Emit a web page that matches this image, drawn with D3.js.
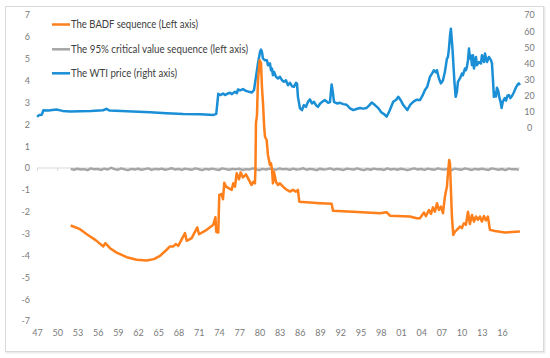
<!DOCTYPE html>
<html><head><meta charset="utf-8">
<script src="https://cdn.jsdelivr.net/npm/d3@7"></script>
<style>body{margin:0;background:#fff} svg{display:block}</style>
</head><body><svg id="c" width="550" height="358"></svg>
<script>
const xTickLabels = ["47","50","53","56","59","62","65","68","71","74","77","80","83","86","89","92","95","98","01","04","07","10","13","16"];
const xTickYears = [1947,1950,1953,1956,1959,1962,1965,1968,1971,1974,1977,1980,1983,1986,1989,1992,1995,1998,2001,2004,2007,2010,2013,2016];
const leftTicks = [7,6,5,4,3,2,1,0,-1,-2,-3,-4,-5,-6,-7];
const rightTicks = [0,10,20,30,40,50,60,70];
const legendLabels = ["The BADF sequence (Left axis)","The 95% critical value sequence (left axis)","The WTI price (right axis)"];

// BADF sequence [year, value] (left axis)
const badf = [
[1952.0,-2.63],[1953.38,-2.8],[1954.5,-3.05],[1955.7,-3.3],[1956.84,-3.59],[1957.13,-3.44],[1957.83,-3.67],
[1958.82,-3.87],[1960.31,-4.08],[1961.79,-4.2],[1963.28,-4.23],[1964.36,-4.17],[1965.25,-4.02],[1966.24,-3.74],
[1966.73,-3.59],[1967.22,-3.59],[1967.58,-3.48],[1967.96,-3.56],[1968.96,-2.98],[1969.21,-3.33],[1969.95,-3.21],
[1970.78,-2.72],[1971.04,-3.03],[1972.18,-2.83],[1973.16,-2.6],[1973.48,-2.25],[1973.6,-2.93],[1973.9,-2.95],
[1974.05,-1.23],[1974.4,-1.19],[1974.6,-1.43],[1974.79,-0.67],[1975.04,-0.85],[1975.89,-1.0],[1976.12,-0.7],
[1976.38,-0.85],[1976.63,-0.24],[1976.97,-0.52],[1977.22,-0.2],[1977.56,-0.43],[1978.01,-0.29],[1978.85,-0.78],
[1979.09,-0.63],[1979.34,-0.7],[1979.42,0.0],[1979.49,2.05],[1979.64,2.4],[1979.79,4.0],[1980.04,4.93],
[1980.24,4.8],[1980.38,3.7],[1980.53,3.0],[1980.72,1.83],[1980.83,1.43],[1981.08,1.28],[1981.27,0.6],
[1981.57,0.14],[1981.72,0.21],[1981.87,-0.06],[1982.01,-0.7],[1982.16,-0.17],[1982.46,-0.63],[1982.76,-0.78],
[1983.05,-0.7],[1983.5,-0.85],[1983.94,-0.97],[1984.54,-1.08],[1984.98,-1.0],[1985.43,-1.08],[1985.72,-1.0],
[1985.92,-1.54],[1987.5,-1.58],[1988.99,-1.61],[1990.72,-1.64],[1990.92,-1.96],[1993.88,-2.0],[1997.89,-2.07],
[1998.88,-2.02],[1999.37,-2.18],[2002.34,-2.22],[2003.34,-2.3],[2003.82,-2.3],[2004.42,-2.04],[2004.71,-2.2],
[2005.16,-1.92],[2005.46,-2.1],[2005.75,-1.8],[2006.05,-2.0],[2006.35,-1.61],[2006.64,-1.92],[2006.94,-1.77],
[2007.24,-2.07],[2007.53,-1.31],[2007.68,-1.08],[2007.83,-0.85],[2007.98,-0.24],[2008.17,0.37],[2008.28,0.21],
[2008.42,-1.0],[2008.57,-2.22],[2008.77,-3.06],[2009.02,-2.91],[2009.31,-2.83],[2009.76,-2.68],[2010.05,-2.75],
[2010.35,-2.53],[2010.65,-2.6],[2010.95,-2.0],[2011.24,-2.56],[2011.54,-2.15],[2011.84,-2.45],[2012.13,-2.22],
[2012.43,-2.37],[2012.73,-2.22],[2013.02,-2.45],[2013.32,-2.2],[2013.62,-2.4],[2013.91,-2.22],[2014.21,-2.83],
[2014.95,-2.88],[2016.44,-2.95],[2017.48,-2.93],[2018.66,-2.91]
];

// WTI price [year, value] (right axis)
const wti = [
[1947.0,7.0],[1947.35,8.0],[1947.7,8.2],[1947.95,11.0],[1948.7,10.8],[1949.9,11.4],[1950.8,10.6],[1951.9,10.2],
[1953.4,10.4],[1955.0,10.6],[1956.8,11.0],[1957.3,11.9],[1957.8,10.8],[1959.5,10.6],[1961.2,10.2],[1963.8,9.7],
[1966.2,9.2],[1968.7,8.7],[1971.2,8.5],[1973.2,8.1],[1973.6,8.8],[1973.9,21.2],[1974.26,20.4],[1974.6,21.4],
[1974.9,20.4],[1975.34,21.4],[1975.64,21.8],[1975.93,21.0],[1976.38,22.4],[1976.67,21.6],[1976.82,23.9],
[1977.12,23.3],[1977.56,24.1],[1978.01,23.0],[1978.45,22.4],[1978.9,22.0],[1979.2,23.5],[1979.49,31.7],
[1979.79,40.0],[1980.09,47.1],[1980.24,48.6],[1980.38,47.1],[1980.53,43.0],[1980.83,42.0],[1981.12,42.0],
[1981.27,38.9],[1981.57,40.0],[1981.72,35.8],[1981.87,36.8],[1982.01,32.7],[1982.16,34.8],[1982.46,31.7],
[1982.76,30.7],[1983.05,31.7],[1983.35,29.6],[1983.65,28.6],[1983.94,29.6],[1984.24,26.5],[1984.54,28.0],
[1984.83,25.9],[1985.13,25.5],[1985.43,28.0],[1985.58,27.6],[1985.72,19.3],[1986.02,12.2],[1986.32,11.1],
[1986.61,14.2],[1986.91,13.1],[1987.21,16.2],[1987.5,17.7],[1987.8,15.2],[1988.1,16.2],[1988.39,14.2],
[1988.69,13.1],[1988.99,15.0],[1989.3,16.2],[1989.73,17.3],[1990.2,15.6],[1990.47,16.0],[1990.72,27.0],
[1990.92,21.4],[1991.07,16.2],[1991.5,15.2],[1991.96,15.6],[1992.45,14.8],[1992.95,14.4],[1993.45,12.2],
[1993.93,11.1],[1994.4,11.8],[1994.92,12.4],[1995.4,12.0],[1995.91,12.4],[1996.3,14.0],[1996.66,15.8],
[1997.15,14.2],[1997.6,12.5],[1998.14,9.5],[1998.5,8.6],[1998.88,7.0],[1999.3,10.5],[1999.86,16.2],
[2000.3,17.5],[2000.61,19.3],[2001.0,17.0],[2001.35,14.2],[2001.94,11.1],[2002.4,14.5],[2002.83,16.2],
[2003.3,17.5],[2003.82,17.3],[2004.2,20.0],[2004.57,23.5],[2004.9,25.5],[2005.31,31.7],[2005.61,33.7],
[2005.9,35.8],[2006.2,34.5],[2006.35,35.8],[2006.64,30.7],[2006.94,27.6],[2007.24,29.6],[2007.53,34.8],
[2007.83,43.0],[2007.98,44.0],[2008.13,49.2],[2008.28,57.0],[2008.42,61.5],[2008.65,49.2],[2008.77,40.9],
[2008.94,28.6],[2009.12,19.3],[2009.31,22.4],[2009.46,28.6],[2009.76,30.7],[2010.05,33.7],[2010.2,32.7],
[2010.5,36.8],[2010.65,35.8],[2010.8,38.0],[2010.95,42.0],[2011.1,49.2],[2011.24,43.0],[2011.39,45.0],
[2011.54,38.9],[2011.69,45.0],[2011.84,36.8],[2011.99,40.0],[2012.13,44.0],[2012.28,38.9],[2012.58,40.9],
[2012.88,40.0],[2013.02,45.0],[2013.32,40.9],[2013.47,46.1],[2013.77,40.9],[2014.06,44.0],[2014.36,42.0],
[2014.51,40.0],[2014.66,30.0],[2014.8,19.3],[2014.95,22.0],[2015.1,19.5],[2015.25,25.0],[2015.45,23.0],
[2015.6,19.0],[2015.8,16.0],[2015.94,12.4],[2016.14,16.5],[2016.4,18.5],[2016.6,17.0],[2016.8,20.0],
[2017.03,20.4],[2017.25,18.5],[2017.5,20.0],[2017.75,22.0],[2018.0,24.5],[2018.3,26.8],[2018.5,27.6],[2018.66,26.5]
];

// 95% critical value sequence, half-yearly from 1952 (left axis)
const critStart = 1952;
const critStep = 0.5;
const crit = [
-0.04,-0.08,-0.03,-0.07,-0.05,-0.1,-0.02,-0.06,-0.04,-0.09,
-0.03,-0.07,0.01,-0.05,-0.08,-0.02,-0.06,-0.1,-0.04,-0.07,
-0.03,-0.08,-0.05,-0.02,-0.09,-0.04,-0.06,-0.03,-0.08,-0.05,
-0.01,-0.07,-0.04,-0.09,-0.03,-0.06,-0.08,-0.02,-0.05,-0.1,
-0.04,-0.07,-0.03,-0.06,-0.09,-0.02,-0.05,-0.08,-0.04,-0.06,
-0.03,-0.09,-0.05,-0.07,-0.02,-0.06,-0.1,-0.04,-0.07,-0.03,
-0.05,-0.08,-0.02,-0.06,-0.04,-0.09,-0.03,-0.07,-0.05,-0.01,
-0.08,-0.04,-0.06,-0.1,-0.03,-0.07,-0.05,-0.02,-0.08,-0.04,
-0.06,-0.09,-0.03,-0.05,-0.07,-0.02,-0.06,-0.1,-0.04,-0.08,
-0.03,-0.06,-0.05,-0.09,-0.02,-0.07,-0.04,-0.08,-0.03,-0.06,
-0.1,-0.05,-0.02,-0.07,-0.04,-0.09,-0.03,-0.06,-0.08,-0.02,
-0.05,-0.07,-0.04,-0.1,-0.03,-0.06,-0.08,-0.02,-0.05,-0.09,
-0.04,-0.07,-0.03,-0.06,-0.09,-0.02,-0.05,-0.08,-0.04,-0.1,
-0.03,-0.06,-0.05,-0.08
];

const ORANGE = "#FF7F1A", GRAY = "#A5A5A5", BLUE = "#1A8FD6";
const FONT = "Lato, 'Liberation Sans', sans-serif";

const svg = d3.select("#c");
// chart frame with light shadow
svg.append("rect").attr("x",6.5).attr("y",7.5).attr("width",538).attr("height",345)
  .attr("fill","none").attr("stroke","#ececec").attr("stroke-width",2);
svg.append("rect").attr("x",5.5).attr("y",6.5).attr("width",538).attr("height",345)
  .attr("fill","#fff").attr("stroke","#d9d9d9").attr("stroke-width",1);

const x = d3.scaleLinear().domain([1947,2016]).range([37,502]);
const yL = d3.scaleLinear().domain([-7,7]).range([321,15]);
const yR = d3.scaleLinear().domain([0,70]).range([128,15]);

// horizontal category axis line at 0
const xAxisLine = d3.axisBottom(x).tickValues(xTickYears).tickSize(3).tickFormat("");
const gxl = svg.append("g").attr("transform",`translate(0,${yL(0)})`).call(xAxisLine);
gxl.select(".domain").attr("stroke","#d9d9d9").attr("d",`M${x(1947)},0H${x(2018.7)}`);
gxl.selectAll(".tick line").attr("stroke","#d9d9d9");

// bottom labels
const xLab = d3.axisBottom(x).tickValues(xTickYears).tickSize(0).tickFormat((d,i)=>xTickLabels[i]);
const gx = svg.append("g").attr("transform","translate(0,327)").call(xLab);
gx.select(".domain").remove();
gx.selectAll("text").attr("fill","#7a7a7a").attr("font-size",9).attr("font-family",FONT);

// left axis
const gl = svg.append("g").attr("transform","translate(30,0)")
  .call(d3.axisLeft(yL).tickValues(leftTicks).tickSize(0).tickPadding(0).tickFormat(d=>String(d)));
gl.select(".domain").remove();
gl.selectAll("text").attr("fill","#7a7a7a").attr("font-size",9).attr("font-family",FONT);

// right axis
const gr = svg.append("g").attr("transform","translate(529.5,0)")
  .call(d3.axisRight(yR).tickValues(rightTicks).tickSize(0).tickPadding(0).tickFormat(d=>String(d)));
gr.select(".domain").remove();
gr.selectAll("text").attr("fill","#7a7a7a").attr("font-size",9).attr("font-family",FONT).attr("text-anchor","middle");

// series
const lineL = d3.line().x(d=>x(d[0])).y(d=>yL(d[1]));
const lineR = d3.line().x(d=>x(d[0])).y(d=>yR(d[1]));
const critLine = d3.line().x((d,i)=>x(critStart + i*critStep)).y(d=>yL(d));

svg.append("path").datum(crit).attr("d",critLine).attr("fill","none")
  .attr("stroke",GRAY).attr("stroke-width",2.4).attr("stroke-linejoin","round");
svg.append("path").datum(wti).attr("d",lineR).attr("fill","none")
  .attr("stroke",BLUE).attr("stroke-width",2.5).attr("stroke-linejoin","round");
svg.append("path").datum(badf).attr("d",lineL).attr("fill","none")
  .attr("stroke",ORANGE).attr("stroke-width",2.5).attr("stroke-linejoin","round");

// legend
const legColors = [ORANGE, GRAY, BLUE];
const legY = [24.5, 49.3, 73.3];
const legW = [127, 177, 106];
const lg = svg.append("g");
legendLabels.forEach((t,i)=>{
  lg.append("line").attr("x1",52).attr("x2",70).attr("y1",legY[i]).attr("y2",legY[i])
    .attr("stroke",legColors[i]).attr("stroke-width",2.5);
  lg.append("text").attr("x",71).attr("y",legY[i]).attr("dy","0.35em")
    .attr("font-size",11).attr("font-family",FONT).attr("fill","#404040")
    .attr("textLength",legW[i]).attr("lengthAdjust","spacingAndGlyphs").text(t);
});
</script></body></html>
